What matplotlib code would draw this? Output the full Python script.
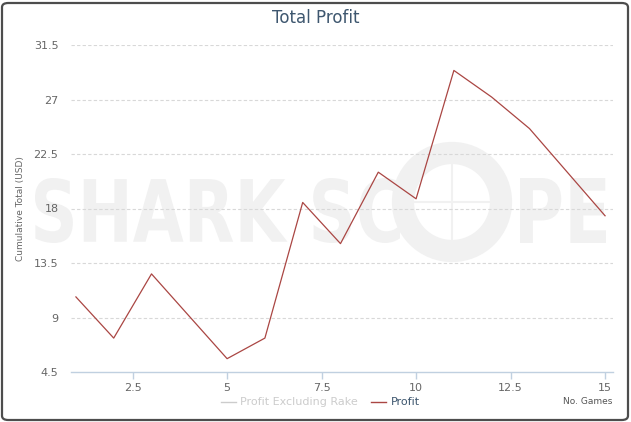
import matplotlib
matplotlib.use("Agg")
import matplotlib.pyplot as plt
from matplotlib.patches import FancyBboxPatch, PathPatch, Ellipse
from matplotlib.lines import Line2D
from matplotlib.textpath import TextPath
from matplotlib.font_manager import FontProperties
from matplotlib.transforms import Affine2D

games = [1, 2, 3, 4, 5, 6, 7, 8, 9, 10, 11, 12, 13, 14, 15]
profit = [10.7, 7.3, 12.6, 9.1, 5.6, 7.3, 18.5, 15.1, 21.0, 18.8, 29.4, 27.2, 24.6, 21.0, 17.4]
y_ticks = [4.5, 9, 13.5, 18, 22.5, 27, 31.5]
y_labels = ["4.5", "9", "13.5", "18", "22.5", "27", "31.5"]
x_ticks = [2.5, 5, 7.5, 10, 12.5, 15]
x_labels = ["2.5", "5", "7.5", "10", "12.5", "15"]

W, H = 631, 422
fig = plt.figure(figsize=(W / 100, H / 100), dpi=100)
fig.patch.set_facecolor("white")

# border
fig.patches.append(FancyBboxPatch((2 / W, 2 / H), (W - 5) / W, (H - 5) / H,
                                  boxstyle="round,pad=0,rounding_size=0.01",
                                  transform=fig.transFigure, fill=False,
                                  edgecolor="#4d4d4d", linewidth=1.6, zorder=0))

ax = fig.add_axes([71 / W, (H - 372) / H, (613 - 71) / W, (372 - 45) / H])
ax.set_facecolor("none")

# watermark (drawn as shapes)
wm = "#f1f1f1"
fp = FontProperties(family="DejaVu Sans", weight="bold")


def stamp(s, x0, x1, ytop, ybot):
    tp = TextPath((0, 0), s, prop=fp, size=1)
    bb = tp.get_extents()
    tr = (Affine2D().translate(-bb.x0, -bb.y0)
          .scale((x1 - x0) / bb.width / W, (ybot - ytop) / bb.height / H)
          .translate(x0 / W, 1 - ybot / H)) + fig.transFigure
    fig.patches.append(PathPatch(tp, transform=tr, facecolor=wm, edgecolor="none", zorder=-5))


stamp("SHARK SC", 35, 400, 178, 243)
stamp("PE", 520, 606, 178, 243)
cx, cy = 452 / W, 1 - 202 / H
fig.patches.append(Ellipse((cx, cy), 98 / W, 98 / H, transform=fig.transFigure,
                           fill=False, edgecolor=wm, linewidth=16, zorder=-5))
fig.lines.append(Line2D([cx, cx], [cy - 48 / H, cy + 48 / H], transform=fig.transFigure,
                        color=wm, linewidth=1.5, zorder=-5))
fig.lines.append(Line2D([cx - 48 / W, cx + 48 / W], [cy, cy], transform=fig.transFigure,
                        color=wm, linewidth=1.5, zorder=-5))

ax.plot(games, profit, color="#AA4643", linewidth=0.9, zorder=3)

ax.set_xlim(0.87, 15.21)
ax.set_ylim(4.5, 31.5)
ax.set_yticks(y_ticks)
ax.set_yticklabels(y_labels)
ax.set_xticks(x_ticks)
ax.set_xticklabels(x_labels)
ax.tick_params(axis="y", length=0, pad=9, labelsize=8, labelcolor="#666666")
ax.tick_params(axis="x", length=5, width=1, color="#C0D0E0", pad=3,
               labelsize=8, labelcolor="#666666")
for yv in y_ticks[1:]:
    ax.axhline(yv, color="#d8d8d8", linewidth=0.8, linestyle=(0, (3, 2)), zorder=1)
for s in ["top", "right", "left"]:
    ax.spines[s].set_visible(False)
ax.spines["bottom"].set_color("#C0D0E0")
ax.spines["bottom"].set_linewidth(1)

ax.set_ylabel("Cumulative Total (USD)", fontsize=6.5, color="#666666", labelpad=6)

fig.text(316 / W, 1 - 18 / H, "Total Profit", fontsize=12, color="#3E576F",
         ha="center", va="center")

# legend
ly = 1 - 402 / H
fig.lines.append(Line2D([221 / W, 236 / W], [ly, ly], transform=fig.transFigure,
                        color="#cccccc", linewidth=1))
fig.text(240 / W, ly, "Profit Excluding Rake", fontsize=8, color="#cccccc",
         ha="left", va="center")
fig.lines.append(Line2D([371 / W, 386 / W], [ly, ly], transform=fig.transFigure,
                        color="#AA4643", linewidth=1))
fig.text(391 / W, ly, "Profit", fontsize=8, color="#3E576F", ha="left", va="center")
fig.text(612 / W, ly, "No. Games", fontsize=6.5, color="#555555", ha="right", va="center")

fig.savefig("out.png", dpi=100)
